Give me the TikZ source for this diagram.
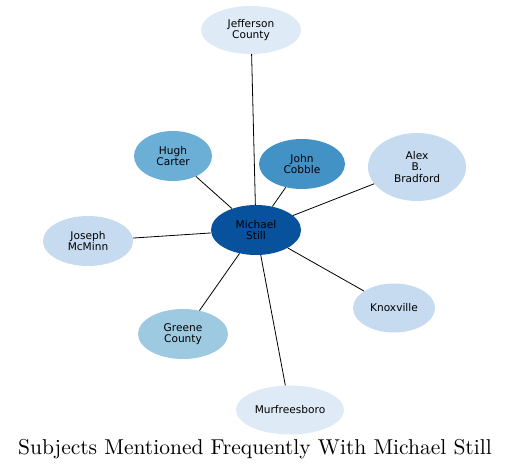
\documentclass[tikz,border=0pt]{standalone}
\usepackage{fontspec}
\setsansfont{DejaVu Sans}
\usetikzlibrary{shapes.geometric}
\definecolor{hubblue}{HTML}{08519C}
\definecolor{blueD}{HTML}{4292C6}
\definecolor{blueC}{HTML}{6BAED6}
\definecolor{blueB}{HTML}{9ECAE1}
\definecolor{blueA}{HTML}{C6DBEF}
\definecolor{blueO}{HTML}{DEEBF7}
\tikzset{
  subj/.style={ellipse, inner sep=0pt, align=center, font=\sffamily\fontsize{10.6}{11.6}\selectfont, text=black},
  hub/.style={subj, fill=hubblue},
  link/.style={draw=black, line width=0.8pt},
}

\begin{document}
\begin{tikzpicture}[x=1pt, y=-1pt]
\useasboundingbox (0,0) rectangle (511,470);
\node[hub, minimum width=90, minimum height=50] (still) at (256,230) {Michael\\Still};
\node[subj, fill=blueO, minimum width=100, minimum height=48] (jeff) at (251,30) {Jefferson\\County};
\node[subj, fill=blueC, minimum width=78, minimum height=50] (carter) at (173,156) {Hugh\\Carter};
\node[subj, fill=blueD, minimum width=86, minimum height=50] (cobble) at (302,164) {John\\Cobble};
\node[subj, fill=blueA, minimum width=98, minimum height=68] (bradford) at (417,167) {Alex\\B.\\Bradford};
\node[subj, fill=blueA, minimum width=90, minimum height=50] (mcminn) at (88,241) {Joseph\\McMinn};
\node[subj, fill=blueA, minimum width=82, minimum height=49] (knox) at (394,308) {Knoxville};
\node[subj, fill=blueB, minimum width=90, minimum height=50] (greene) at (183,334) {Greene\\County};
\node[subj, fill=blueO, minimum width=108, minimum height=49] (murf) at (290,410) {Murfreesboro};
\node (title) at (255,449) {\scalebox{2.15}{Subjects Mentioned Frequently With Michael Still}};
% spokes
\foreach \s in {jeff,carter,cobble,bradford,mcminn,knox,greene,murf}
  \draw[link] (still) -- (\s);
\end{tikzpicture}
\end{document}
